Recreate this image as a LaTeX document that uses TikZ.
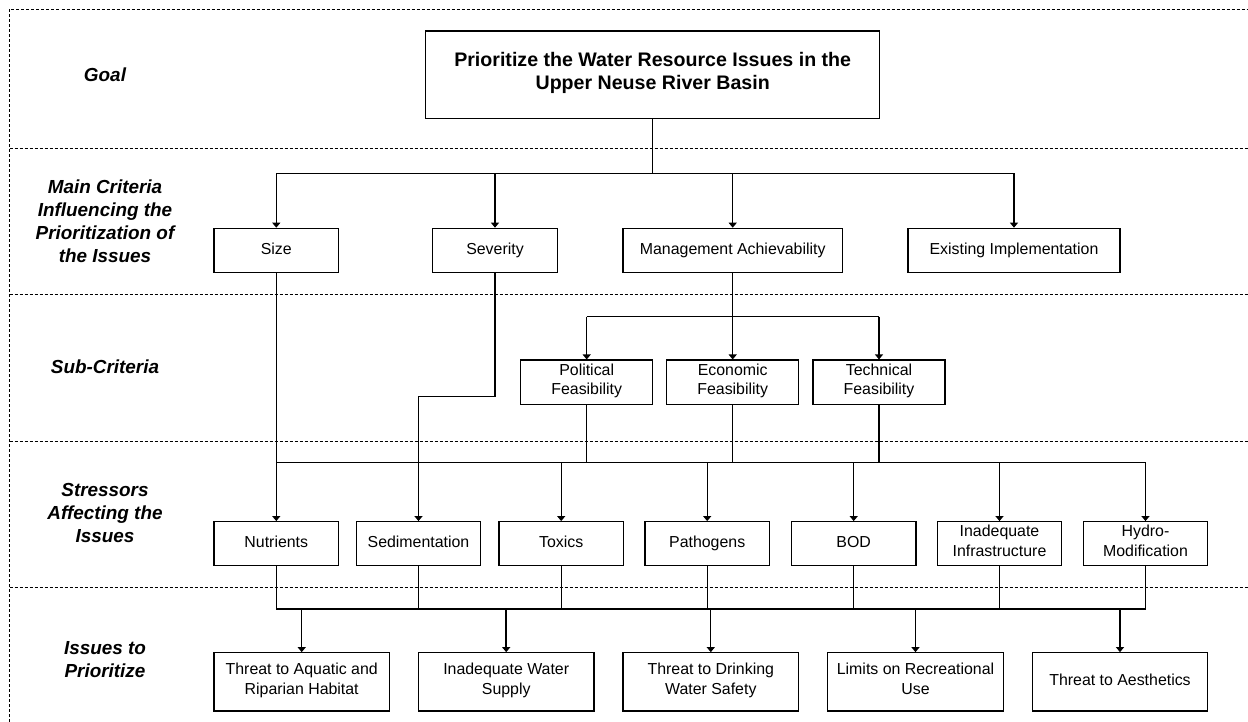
\documentclass[tikz,border=0pt]{standalone}
\usepackage{fontspec}
\setmainfont{Liberation Sans}
\usetikzlibrary{arrows.meta,positioning}

\tikzset{
	box/.style={draw, line width=1.2pt, align=center, inner sep=2pt, font=\fontsize{15.9}{19.5}\selectfont, execute at begin node=\strut, execute at end node=\strut},
	link/.style={line width=1.1pt},
	arr/.style={line width=1.1pt, -{Triangle[width=8pt,length=5pt]}},
	band/.style={dash pattern=on 3pt off 2pt, line width=0.8pt},
	level/.style={align=center, font=\fontsize{18.9}{23}\selectfont\bfseries\itshape}
}

\begin{document}
\begin{tikzpicture}[x=1pt,y=-1pt]
			\useasboundingbox (0,0) rectangle (1248,722);
% 			levels
			\draw[band] (9.5,722) -- (9.5,9) -- (1248,9);
			\foreach \y in {148,294,441,587}
			\draw[band] (9.5,\y) -- (1248,\y);
			\node[level] (lgoal) at (105,75) {Goal};
			\node[level] (lmain) at (105,221) {Main Criteria\\Influencing the\\Prioritization of\\the Issues};
			\node[level] (lsub) at (105,367) {Sub-Criteria};
			\node[level] (lstress) at (105,513) {Stressors\\Affecting the\\Issues};
			\node[level] (lissue) at (105,660) {Issues to\\Prioritize};

			\node[box, minimum width=454pt, minimum height=87.3pt, font=\fontsize{19.6}{23}\selectfont\bfseries, execute at begin node={\rule{0pt}{22pt}}] (goal) at (652.7,74.7) {Prioritize the Water Resource Issues in the\\Upper Neuse River Basin};

			\begin{scope}[every node/.style={box, minimum height=44pt}]
			\node[minimum width=124.6pt] (size) at (276.3,250.3) {Size};
			\node[minimum width=124.6pt] (severity) at (495,250.3) {Severity};
			\node[minimum width=219.3pt] (manage) at (732.7,250.3) {Management Achievability};
			\node[minimum width=212pt] (exist) at (1014,250.3) {Existing Implementation};
			\end{scope}

			\begin{scope}[every node/.style={box, minimum width=132pt, minimum height=44.3pt}]
			\node (polit) at (586.7,382.2) {Political\\Feasibility};
			\node (econ) at (732.7,382.2) {Economic\\Feasibility};
			\node (tech) at (879,382.2) {Technical\\Feasibility};
			\end{scope}

			\foreach \nm/\xx/\txt in {nutr/276.3/{Nutrients}, sedi/418.5/{Sedimentation}, toxic/561.2/{Toxics}, patho/707.2/{Pathogens}, bod/853.7/{BOD}, infra/999.5/{Inadequate\\Infrastructure}, hydro/1145.5/{Hydro-\\Modification}}
			\node[box, minimum width=124.5pt, minimum height=43.6pt] (\nm) at (\xx,543.5) {\txt};

			\foreach \nm/\xx/\txt in {aquatic/301.7/{Threat to Aquatic and\\Riparian Habitat}, supply/506.2/{Inadequate Water\\Supply}, drink/710.8/{Threat to Drinking\\Water Safety}, recre/915.5/{Limits on Recreational\\Use}, aesth/1120/{Threat to Aesthetics}}
			\node[box, minimum width=175.5pt, minimum height=58.3pt] (\nm) at (\xx,681.9) {\txt};

			\coordinate (mainbus) at (0,173.3);
			\coordinate (subbus) at (0,316.7);
			\coordinate (sevturn) at (0,396.7);
			\coordinate (stressbus) at (0,462.7);
			\coordinate (issuebus) at (0,609);

% 			goal to criteria
			\draw[link] (goal.south) -- (goal.south |- mainbus);
			\draw[link] (size.north |- mainbus) -- (exist.north |- mainbus);
			\foreach \n in {size,severity,manage,exist}
			\draw[arr] (\n.north |- mainbus) -- (\n.north);

% 			sub-criteria
			\draw[link] (manage.south) -- (manage.south |- subbus);
			\draw[link] (polit.north |- subbus) -- (tech.north |- subbus);
			\foreach \n in {polit,econ,tech}
			\draw[arr] (\n.north |- subbus) -- (\n.north);

% 			stressors
			\draw[arr] (size.south) -- (nutr.north);
			\draw[arr] (severity.south) -- (severity.south |- sevturn) -| (sedi.north);
			\foreach \n in {polit,econ,tech}
			\draw[link] (\n.south) -- (\n.south |- stressbus);
			\draw[link] (nutr.north |- stressbus) -- (hydro.north |- stressbus);
			\foreach \n in {toxic,patho,bod,infra,hydro}
			\draw[arr] (\n.north |- stressbus) -- (\n.north);

% 			issues
			\foreach \n in {nutr,sedi,toxic,patho,bod,infra,hydro}
			\draw[link] (\n.south) -- (\n.south |- issuebus);
			\draw[link] (nutr.south |- issuebus) -- (hydro.south |- issuebus);
			\foreach \n in {aquatic,drink,recre,aesth}
			\draw[arr] (\n.north |- issuebus) -- (\n.north);
			\draw[arr, line width=1.6pt] (supply.north |- issuebus) -- (supply.north);
\end{tikzpicture}
\end{document}
